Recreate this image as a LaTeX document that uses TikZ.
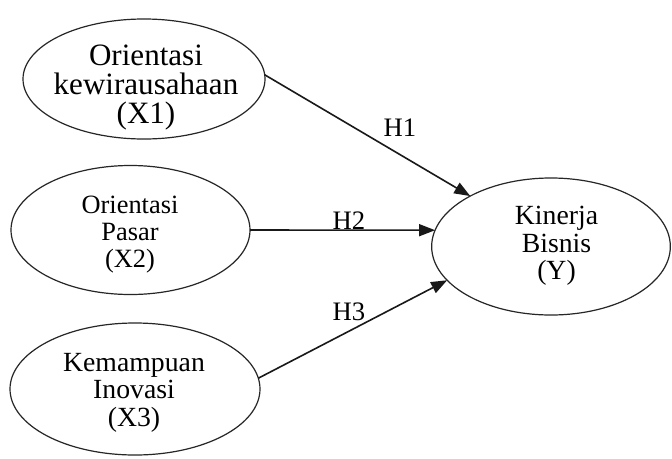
\documentclass[tikz,border=0pt]{standalone}
\usepackage{fontspec}
\setmainfont{Liberation Serif}
\usetikzlibrary{shapes.geometric,arrows.meta}
\begin{document}
\begin{tikzpicture}[x=0.75pt,y=-0.75pt,
  oval/.style={draw=black!85,line width=0.9pt,ellipse,inner sep=0pt,outer sep=0pt},
  txt/.style={align=center,inner sep=0pt},
  arr/.style={draw=black!90,line width=1.2pt,-{Triangle[length=12pt,width=9pt]}},
  hlab/.style={inner sep=0pt,font=\fontsize{20}{20}\selectfont}]
\useasboundingbox (0,0) rectangle (672,458);
\fill[white] (0,0) rectangle (672,458);
% ellipses
\node[oval,minimum width=181.5pt,minimum height=90pt] (X1) at (144,79) {};
\node[oval,minimum width=179.25pt,minimum height=96.75pt] (X2) at (130.5,230) {};
\node[oval,minimum width=187.5pt,minimum height=99pt] (X3) at (135,389) {};
\node[oval,minimum width=179pt,minimum height=102.75pt] (Y) at (551,246.5) {};
% texts
\node[txt,font=\fontsize{23.3}{21.5}\selectfont] (T1) at (146,87.5) {Orientasi\\kewirausahaan\\(X1)};
\node[txt,font=\fontsize{19.8}{20}\selectfont] (T2) at (130,234.4) {Orientasi\\Pasar\\(X2)};
\node[txt,font=\fontsize{20.8}{20.6}\selectfont] (T3) at (134,392.6) {Kemampuan\\Inovasi\\(X3)};
\node[txt,font=\fontsize{20.8}{20.6}\selectfont] (TY) at (556.5,246) {Kinerja\\Bisnis\\(Y)};
% connectors
\draw[arr] (X1.2) -- (Y.148);
\draw[arr] (X2.east) -- (Y.172);
\draw[arr] (X3.5) -- (Y.198.5);
% labels
\node[hlab] (H1) at (400,128) {H1};
\node[hlab] (H2) at (349,221) {H2};
\node[hlab] (H3) at (349,311.5) {H3};
\end{tikzpicture}
\end{document}
